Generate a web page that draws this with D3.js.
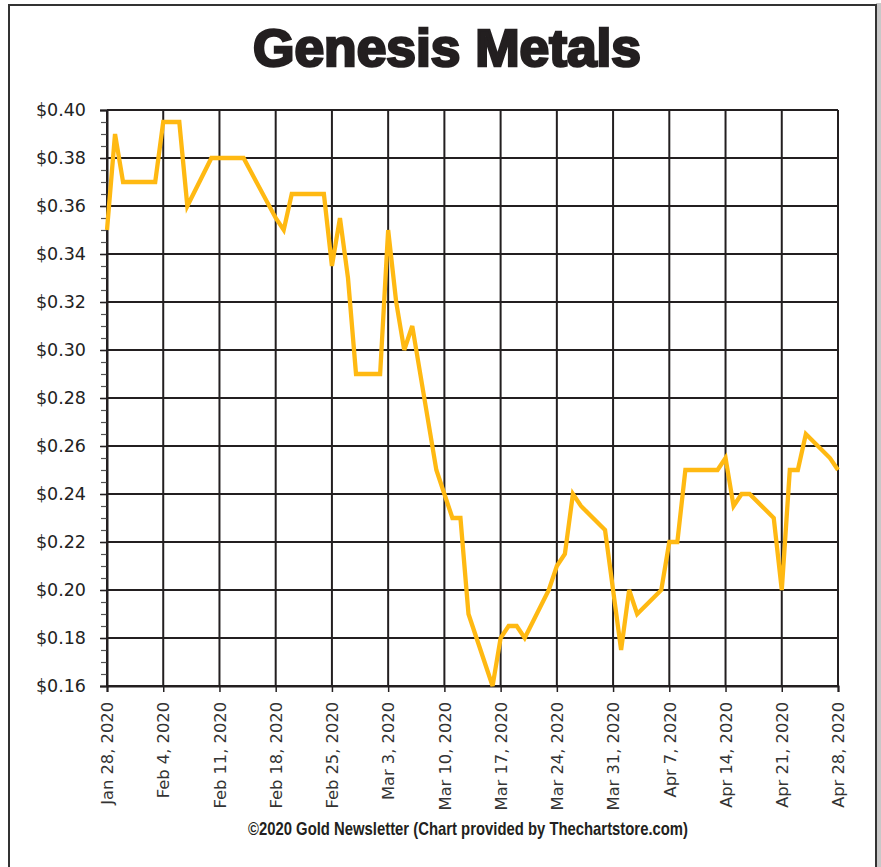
<!DOCTYPE html>
<html>
<head>
<meta charset="utf-8">
<script src="https://cdn.jsdelivr.net/npm/d3@7"></script>
<style>
  body { margin: 0; background: #fff; }
  svg { display: block; }
</style>
</head>
<body>
<svg id="chart"></svg>
<script>
const width = 881;
const height = 867;

// trading days and closing prices
const dates = [
  "2020-01-28", "2020-01-29", "2020-01-30", "2020-01-31", "2020-02-03",
  "2020-02-04", "2020-02-05", "2020-02-06", "2020-02-07", "2020-02-10",
  "2020-02-11", "2020-02-12", "2020-02-13", "2020-02-14", "2020-02-18",
  "2020-02-19", "2020-02-20", "2020-02-21", "2020-02-24", "2020-02-25",
  "2020-02-26", "2020-02-27", "2020-02-28", "2020-03-02", "2020-03-03",
  "2020-03-04", "2020-03-05", "2020-03-06", "2020-03-09", "2020-03-10",
  "2020-03-11", "2020-03-12", "2020-03-13", "2020-03-16", "2020-03-17",
  "2020-03-18", "2020-03-19", "2020-03-20", "2020-03-23", "2020-03-24",
  "2020-03-25", "2020-03-26", "2020-03-27", "2020-03-30", "2020-03-31",
  "2020-04-01", "2020-04-02", "2020-04-03", "2020-04-06", "2020-04-07",
  "2020-04-08", "2020-04-09", "2020-04-13", "2020-04-14", "2020-04-15",
  "2020-04-16", "2020-04-17", "2020-04-20", "2020-04-21", "2020-04-22",
  "2020-04-23", "2020-04-24", "2020-04-27", "2020-04-28"
];
const prices = [
  0.35, 0.39, 0.37, 0.37, 0.37,
  0.395, 0.395, 0.395, 0.36, 0.38,
  0.38, 0.38, 0.38, 0.38, 0.355,
  0.35, 0.365, 0.365, 0.365, 0.335,
  0.355, 0.33, 0.29, 0.29, 0.35,
  0.32, 0.30, 0.31, 0.25, 0.24,
  0.23, 0.23, 0.19, 0.16, 0.18,
  0.185, 0.185, 0.18, 0.20, 0.21,
  0.215, 0.24, 0.235, 0.225, 0.20,
  0.175, 0.20, 0.19, 0.20, 0.22,
  0.22, 0.25, 0.25, 0.255, 0.235,
  0.24, 0.24, 0.23, 0.20, 0.25,
  0.25, 0.265, 0.255, 0.25
];

const xTickDates = [
  "2020-01-28", "2020-02-04", "2020-02-11", "2020-02-18", "2020-02-25",
  "2020-03-03", "2020-03-10", "2020-03-17", "2020-03-24", "2020-03-31",
  "2020-04-07", "2020-04-14", "2020-04-21", "2020-04-28"
];
const yTicks = [0.16, 0.18, 0.20, 0.22, 0.24, 0.26, 0.28, 0.30, 0.32, 0.34, 0.36, 0.38, 0.40];
const yMinorTicks = d3.range(0, 49).map(i => 0.16 + i * 0.005);

const titleText = "Genesis Metals";
const footerText = "\u00A92020 Gold Newsletter (Chart provided by Thechartstore.com)";

const plotLeft = 107, plotRight = 838, plotTop = 110, plotBottom = 686;
const gridColor = "#231f20";

const parse = d3.timeParse("%Y-%m-%d");
const data = dates.map((d, i) => ({ date: parse(d), value: prices[i] }));
const xTicks = xTickDates.map(parse);

const svg = d3.select("#chart").attr("width", width).attr("height", height);

// frame with a soft shadow on the right
svg.append("rect")
  .attr("x", 876).attr("y", 3).attr("width", 5).attr("height", height)
  .attr("fill", "#c8c8c8");
svg.append("rect")
  .attr("x", 9).attr("y", 5).attr("width", 867).attr("height", height + 10)
  .attr("fill", "#fff").attr("stroke", "#333").attr("stroke-width", 2);

const xScale = d3.scaleTime()
  .domain([parse("2020-01-28"), parse("2020-04-28")])
  .range([plotLeft, plotRight]);

const yScale = d3.scaleLinear()
  .domain([0.16, 0.40])
  .range([plotBottom, plotTop]);

// grid
svg.append("g")
  .selectAll("line")
  .data(yTicks)
  .enter()
  .append("line")
  .attr("x1", plotLeft).attr("x2", plotRight)
  .attr("y1", d => yScale(d)).attr("y2", d => yScale(d))
  .attr("stroke", gridColor).attr("stroke-width", 2);

svg.append("g")
  .selectAll("line")
  .data(xTicks)
  .enter()
  .append("line")
  .attr("x1", d => xScale(d)).attr("x2", d => xScale(d))
  .attr("y1", plotTop).attr("y2", plotBottom)
  .attr("stroke", gridColor).attr("stroke-width", 2);

// y axis: minor ticks, then labels
const yMinor = d3.axisLeft(yScale).tickValues(yMinorTicks).tickSize(6).tickFormat("");
svg.append("g")
  .attr("transform", "translate(" + plotLeft + ",0)")
  .call(yMinor)
  .call(g => g.select(".domain").remove())
  .selectAll("line").attr("stroke", "#555").attr("stroke-width", 1.2);

const yAxis = d3.axisLeft(yScale)
  .tickValues(yTicks)
  .tickSize(7)
  .tickPadding(14)
  .tickFormat(d => "$" + d.toFixed(2));
svg.append("g")
  .attr("id", "y-axis")
  .attr("transform", "translate(" + plotLeft + ",0)")
  .call(yAxis)
  .call(g => g.select(".domain").attr("stroke", gridColor).attr("stroke-width", 2))
  .call(g => g.selectAll("line").attr("stroke", gridColor).attr("stroke-width", 1.5))
  .selectAll("text")
  .style("font-family", "'DejaVu Sans', Verdana, sans-serif")
  .style("font-size", "17.5px")
  .attr("fill", "#222");

// x axis
const xAxis = d3.axisBottom(xScale)
  .tickValues(xTicks)
  .tickSize(6)
  .tickFormat(d3.timeFormat("%b %-d, %Y"));
svg.append("g")
  .attr("id", "x-axis")
  .attr("transform", "translate(0," + plotBottom + ")")
  .call(xAxis)
  .call(g => g.select(".domain").attr("stroke", gridColor).attr("stroke-width", 2))
  .call(g => g.selectAll("line").attr("stroke", gridColor).attr("stroke-width", 1.5))
  .selectAll("text")
  .style("font-family", "'DejaVu Sans', Verdana, sans-serif")
  .style("font-size", "16.3px")
  .attr("fill", "#333")
  .attr("text-anchor", "end")
  .attr("dy", "0.35em")
  .attr("x", 0)
  .attr("y", 0)
  .attr("transform", "translate(0,16) rotate(-90)");

// price line
const line = d3.line()
  .x(d => xScale(d.date))
  .y(d => yScale(d.value));

svg.append("path")
  .datum(data)
  .attr("d", line)
  .attr("fill", "none")
  .attr("stroke", "#ffb912")
  .attr("stroke-width", 4.3)
  .attr("stroke-linejoin", "miter");

// title
svg.append("text")
  .attr("x", 447)
  .attr("y", 66)
  .attr("text-anchor", "middle")
  .attr("textLength", 388)
  .attr("lengthAdjust", "spacingAndGlyphs")
  .style("font-family", "'Liberation Sans', Arial, sans-serif")
  .style("font-weight", "bold")
  .style("font-size", "51px")
  .attr("fill", "#231f20")
  .attr("stroke", "#231f20")
  .attr("stroke-width", 2.6)
  .text(titleText);

// footer
svg.append("text")
  .attr("x", 468)
  .attr("y", 835)
  .attr("text-anchor", "middle")
  .attr("textLength", 440)
  .attr("lengthAdjust", "spacingAndGlyphs")
  .style("font-family", "'Liberation Sans Narrow', 'Liberation Sans', Arial, sans-serif")
  .style("font-weight", "bold")
  .style("font-size", "18.5px")
  .attr("fill", "#231f20")
  .text(footerText);
</script>
</body>
</html>
